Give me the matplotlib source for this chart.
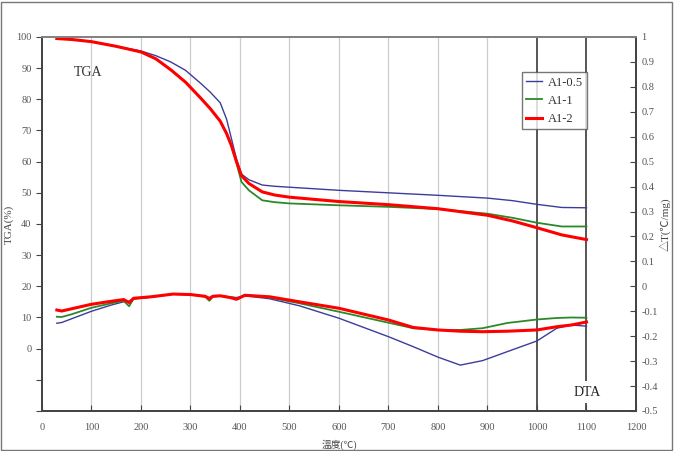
import numpy as np
import matplotlib.pyplot as plt
from matplotlib.patches import Rectangle

plt.rcParams['font.family'] = ['Liberation Serif', 'Noto Sans CJK TC']

# TGA data (left axis, %)
tga_temp = [30, 60, 100, 150, 200, 230, 260, 290, 320, 340, 360, 373, 383, 393, 403,
            418, 445, 470, 500, 600, 700, 800, 900, 950, 1000, 1050, 1100]
tga_a05 = [99.5, 99.2, 98.5, 97.0, 95.5, 94.0, 92.0, 89.3, 85.2, 82.3, 78.9, 73.6, 67.2, 60.8, 56.0,
           54.2, 52.5, 52.1, 51.8, 50.8, 50.0, 49.2, 48.3, 47.5, 46.3, 45.3, 45.2]
tga_a1 = [99.5, 99.2, 98.5, 97.0, 95.2, 93.0, 89.5, 85.5, 80.5, 77.0, 73.0, 69.0, 65.0, 59.5, 53.5,
          50.8, 47.6, 47.0, 46.6, 46.0, 45.5, 44.8, 43.3, 42.0, 40.4, 39.2, 39.2]
tga_a2 = [99.5, 99.2, 98.5, 97.0, 95.2, 93.0, 89.5, 85.5, 80.5, 77.0, 73.0, 69.0, 65.0, 60.0, 55.5,
          53.0, 50.3, 49.3, 48.6, 47.2, 46.2, 44.9, 42.8, 41.0, 38.8, 36.5, 35.0]

# DTA data (right axis, C/mg)
dta_temp = [30, 40, 60, 100, 140, 165, 176, 185, 220, 265, 300, 330, 338, 345, 360, 380,
            393, 410, 460, 520, 600, 700, 750, 800, 845, 890, 940, 1000, 1040, 1070, 1100]
dta_a05 = [-0.148, -0.145, -0.13, -0.1, -0.075, -0.062, -0.06, -0.05, -0.043, -0.031, -0.033,
           -0.04, -0.045, -0.04, -0.038, -0.042, -0.045, -0.038, -0.05, -0.078, -0.128,
           -0.202, -0.242, -0.284, -0.316, -0.298, -0.262, -0.219, -0.168, -0.155, -0.16]
dta_a1 = [-0.122, -0.123, -0.112, -0.086, -0.068, -0.058, -0.08, -0.05, -0.043, -0.031, -0.033,
          -0.042, -0.058, -0.042, -0.038, -0.045, -0.05, -0.034, -0.045, -0.068, -0.102,
          -0.146, -0.168, -0.175, -0.175, -0.168, -0.147, -0.133, -0.127, -0.125, -0.126]
dta_a2 = [-0.095, -0.099, -0.09, -0.072, -0.06, -0.053, -0.065, -0.048, -0.042, -0.031, -0.033,
          -0.04, -0.05, -0.04, -0.038, -0.045, -0.052, -0.036, -0.042, -0.062, -0.088,
          -0.135, -0.165, -0.175, -0.18, -0.182, -0.18, -0.175, -0.162, -0.155, -0.143]

names = ['A1-0.5', 'A1-1', 'A1-2']
colors = ['#3c3c9c', '#2a8a2a', '#ff0000']
widths = [1.0, 1.3, 2.2]

fig = plt.figure(figsize=(6.75, 4.51), dpi=100)
ax = fig.add_axes([0.0622, 0.0887, 0.8800, 0.8293])
ax2 = ax.twinx()

for t in range(100, 1000, 100):
    ax.axvline(t, color='#cccccc', lw=0.9, zorder=0)
ax.axvline(1000, color='#555555', lw=1.4, zorder=1)
ax.axvline(1100, color='#555555', lw=1.4, zorder=1)

tga = [tga_a05, tga_a1, tga_a2]
dta = [dta_a05, dta_a1, dta_a2]
for i in range(3):
    ax.plot(tga_temp, tga[i], color=colors[i], lw=widths[i], label=names[i], zorder=3 + i)
    ax2.plot(dta_temp, dta[i], color=colors[i], lw=widths[i], zorder=3 + i)

ax.set_xlim(0, 1200)
ax.set_ylim(-20, 100)
ax2.set_ylim(-0.5, 1)

ax.set_xticks(range(0, 1201, 100))
ax.set_yticks(range(-20, 101, 10))
ax.set_yticklabels(['' if v < 0 else str(v) for v in range(-20, 101, 10)])
r_ticks = np.round(np.arange(-0.5, 1.01, 0.1), 1)
ax2.set_yticks(r_ticks)
ax2.set_yticklabels(['0' if v == 0 else ('1' if v == 1 else ('%g' % v)) for v in r_ticks])

ax.tick_params(axis='x', direction='in', length=4, colors='#444444', labelsize=7.5, pad=9,
               labelcolor='#555555')
ax.tick_params(axis='y', direction='out', length=4, colors='#444444', labelsize=7.5,
               labelcolor='#555555')
ax2.tick_params(axis='y', direction='in', length=4, colors='#444444', labelsize=7.5, pad=4,
                labelcolor='#555555')

for a in (ax, ax2):
    for s in a.spines.values():
        s.set_color('#444444')
        s.set_linewidth(1.3)
ax2.spines['top'].set_color('#888888')

ax.set_xlabel('溫度(℃)', fontsize=7, color='#444444', labelpad=5)
ax.set_ylabel('TGA(%)', fontsize=8, color='#444444', labelpad=2)
ax2.set_ylabel('△T(℃/mg)', fontsize=8, color='#444444', labelpad=1)

ax.text(65, 88.5, 'TGA', fontsize=10, color='#333333', va='center', ha='left', zorder=6)
ax2.text(1101, -0.424, 'DTA', fontsize=10, color='#222222', va='center', ha='center', zorder=6,
         bbox=dict(facecolor='white', edgecolor='none', pad=3))

leg = ax.legend(loc='upper right', bbox_to_anchor=(0.9175, 0.906), borderaxespad=0,
                fontsize=9, frameon=True, fancybox=False, handlelength=1.3, borderpad=0.35,
                labelspacing=0.5, handletextpad=0.4)
leg.get_frame().set_edgecolor('#555555')
leg.get_frame().set_linewidth(1.0)
leg.set_zorder(10)
for txt in leg.get_texts():
    txt.set_color('#333333')

fig.patches.append(Rectangle((0.002, 0.002), 0.994, 0.994, transform=fig.transFigure,
                             fill=False, edgecolor='#777777', lw=1.0))

fig.savefig('out.png', dpi=100)
